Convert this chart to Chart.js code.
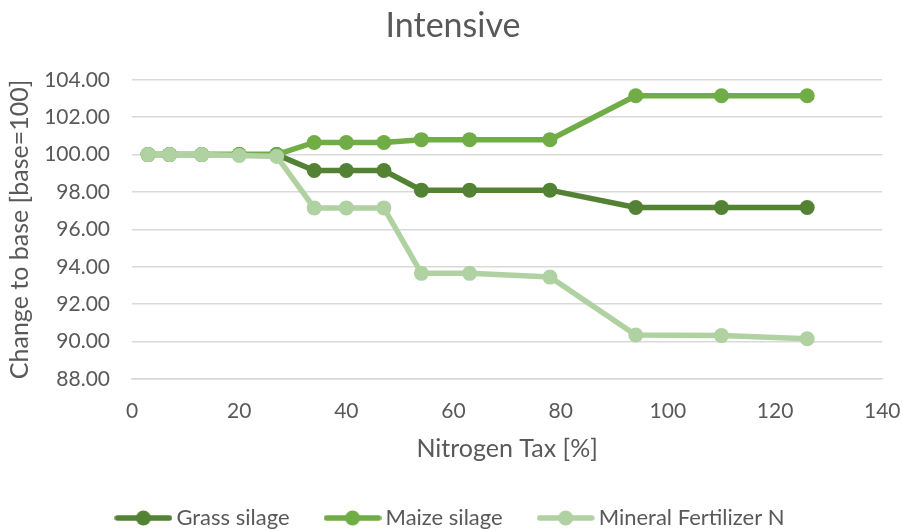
<!DOCTYPE html>
<html>
<head>
<meta charset="utf-8">
<script src="https://cdn.jsdelivr.net/npm/chart.js@4/dist/chart.umd.min.js"></script>
<style>
  html, body { margin: 0; padding: 0; background: #ffffff; }
  #wrap { width: 906px; height: 530px; }
</style>
</head>
<body>
<div id="wrap"><canvas id="c" width="906" height="530"></canvas></div>
<script>
const chartTitle = "Intensive";
const xAxisTitle = "Nitrogen Tax [%]";
const yAxisTitle = "Change to base [base=100]";
const taxLevels = [3, 7, 13, 20, 27, 34, 40, 47, 54, 63, 78, 94, 110, 126];
const seriesNames = ["Grass silage", "Maize silage", "Mineral Fertilizer N"];
const grassSilage = [100, 100, 100, 100, 100, 99.15, 99.15, 99.15, 98.1, 98.1, 98.1, 97.17, 97.17, 97.17];
const maizeSilage = [100, 100, 100, 100, 100, 100.65, 100.65, 100.65, 100.8, 100.8, 100.8, 103.15, 103.15, 103.15];
const mineralFertN = [100, 100, 100, 99.95, 99.9, 97.15, 97.15, 97.15, 93.65, 93.65, 93.45, 90.35, 90.32, 90.15];
const yMin = 88, yMax = 104, yStep = 2;
const xMin = 0, xMax = 140, xStep = 20;

const colors = ["#548235", "#70AD47", "#B0D2A2"];
const FONT = "Lato, 'Open Sans', sans-serif";
const GREY = "#595959";

function legendMarker(color) {
  const c = document.createElement("canvas");
  c.width = 58; c.height = 16;
  const g = c.getContext("2d");
  g.strokeStyle = color; g.lineWidth = 5.5; g.lineCap = "round";
  g.beginPath(); g.moveTo(3, 8); g.lineTo(55, 8); g.stroke();
  g.fillStyle = color;
  g.beginPath(); g.arc(29, 8, 7.5, 0, Math.PI * 2); g.fill();
  return c;
}

function toPoints(vals) { return taxLevels.map((x, i) => ({ x: x, y: vals[i] })); }

const allSeries = [grassSilage, maizeSilage, mineralFertN];
const drawOrder = [2, 1, 0];
const datasets = allSeries.map((vals, i) => ({
  label: seriesNames[i],
  data: toPoints(vals),
  borderColor: colors[i],
  backgroundColor: colors[i],
  pointBackgroundColor: colors[i],
  pointBorderColor: colors[i],
  pointRadius: 7.5,
  pointHoverRadius: 7.5,
  pointBorderWidth: 0,
  borderWidth: 5.5,
  tension: 0,
  order: drawOrder[i],
  pointStyle: 'circle',
  legendImg: legendMarker(colors[i])
}));

new Chart(document.getElementById("c"), {
  type: "line",
  data: { datasets: datasets },
  options: {
    responsive: false,
    animation: false,
    devicePixelRatio: 1,
    layout: { padding: { left: 0, right: 0, top: 0, bottom: -9 } },
    plugins: {
      tooltip: { enabled: false },
      title: {
        display: true, text: chartTitle, color: GREY,
        font: { family: FONT, size: 34, weight: "normal" },
        padding: { top: 6, bottom: 33 }
      },
      legend: {
        display: true, position: "bottom",
        labels: {
          color: GREY,
          font: { family: FONT, size: 22 },
          usePointStyle: true,
          pointStyleWidth: 44,
          boxHeight: 16,
          padding: 41,
          generateLabels: (chart) => chart.data.datasets.map((d, i) => ({
            text: d.label,
            fillStyle: d.borderColor,
            strokeStyle: d.borderColor,
            fontColor: GREY,
            lineWidth: 0,
            pointStyle: d.legendImg,
            hidden: false,
            datasetIndex: i
          })),
          sort: (a, b) => a.datasetIndex - b.datasetIndex
        }
      }
    },
    scales: {
      x: {
        type: "linear", min: xMin, max: xMax,
        ticks: { stepSize: xStep, color: GREY, font: { family: FONT, size: 21 }, padding: 5.5 },
        grid: { display: true, color: "rgba(0,0,0,0)", drawOnChartArea: false, drawTicks: true, tickLength: 14 },
        border: { display: true, color: "#d9d9d9", width: 1.5 },
        title: { display: true, text: xAxisTitle, color: GREY, font: { family: FONT, size: 25 }, padding: { top: 10, bottom: 2 } },
        afterFit: (scale) => { scale.height = 87; }
      },
      y: {
        min: yMin, max: yMax,
        ticks: { stepSize: yStep, color: GREY, font: { family: FONT, size: 21 }, padding: 22,
                 callback: (v) => Number(v).toFixed(2) },
        grid: { color: "#d9d9d9", lineWidth: 1.5, drawTicks: false },
        border: { display: false },
        title: { display: true, text: yAxisTitle, color: GREY, font: { family: FONT, size: 25 }, padding: { top: 5, bottom: 0 } },
        afterFit: (scale) => { scale.width = 132; }
      }
    }
  }
});
</script>
</body>
</html>
